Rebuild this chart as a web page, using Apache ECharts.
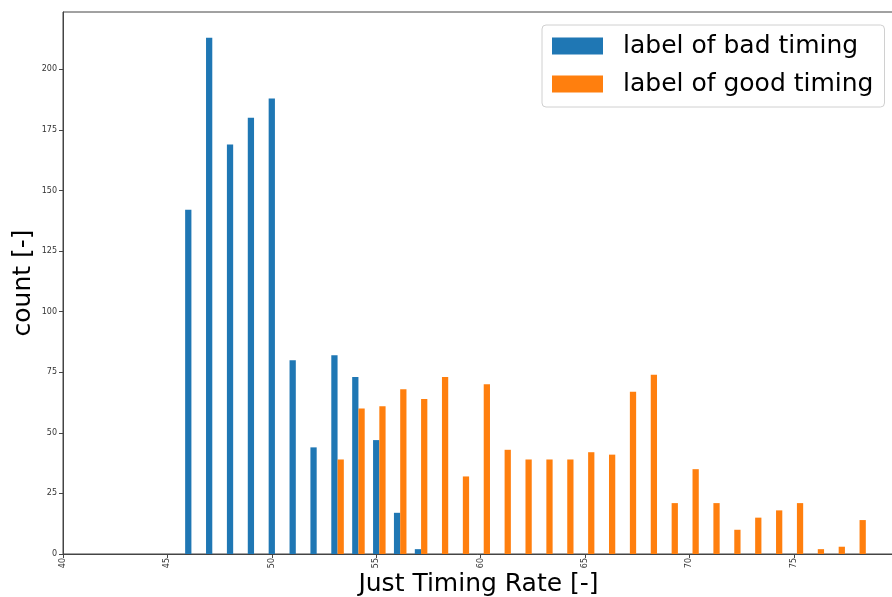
<!DOCTYPE html>
<html>
<head>
<meta charset="utf-8">
<script src="https://cdn.jsdelivr.net/npm/echarts@6/dist/echarts.min.js"></script>
<style>
html,body{margin:0;padding:0;background:#fff;}
#chart{width:892px;height:597px;}
</style>
</head>
<body>
<div id="chart"></div>
<script>
// ---- data ----
const badX = [46, 47, 48, 49, 50, 51, 52, 53, 54, 55, 56, 57];
const badY = [142, 213, 169, 180, 188, 80, 44, 82, 73, 47, 17, 2];
const goodX = [53, 54, 55, 56, 57, 58, 59, 60, 61, 62, 63, 64, 65, 66, 67, 68, 69, 70, 71, 72, 73, 74, 75, 76, 77, 78];
const goodY = [39, 60, 61, 68, 64, 73, 32, 70, 43, 39, 39, 39, 42, 41, 67, 74, 21, 35, 21, 10, 15, 18, 21, 2, 3, 14];
const xTicks = [40, 45, 50, 55, 60, 65, 70, 75];
const yTicks = [0, 25, 50, 75, 100, 125, 150, 175, 200];
const seriesNames = ['label of bad timing', 'label of good timing'];

const BAR_W = 0.3;
function makeRender(offset, color) {
  return function (params, api) {
    const x = api.value(0), y = api.value(1);
    const p0 = api.coord([x + offset - BAR_W / 2, y]);
    const p1 = api.coord([x + offset + BAR_W / 2, 0]);
    return {
      type: 'rect',
      shape: { x: p0[0], y: p0[1], width: p1[0] - p0[0], height: p1[1] - p0[1] },
      style: { fill: color }
    };
  };
}

const chart = echarts.init(document.getElementById('chart'), null, { renderer: 'canvas' });
const FONT = 'DejaVu Sans';
chart.setOption({
  animation: false,
  backgroundColor: '#fff',
  textStyle: { fontFamily: FONT },
  grid: { left: 63, top: 12, right: -2, bottom: 43, show: true, borderColor: '#444', borderWidth: 1, backgroundColor: 'transparent', outerBoundsMode: 'none', containLabel: false },
  legend: {
    orient: 'vertical', left: 542, top: 25,
    padding: [6, 11, 8, 10],
    itemWidth: 51, itemHeight: 17, itemGap: 8,
    icon: 'rect',
    borderColor: '#d0d0d0', borderWidth: 1, borderRadius: 4,
    backgroundColor: 'rgba(255,255,255,0.8)',
    textStyle: { fontFamily: FONT, fontSize: 25, color: '#000', lineHeight: 30, padding: [0, 0, 0, 15] },
    data: seriesNames
  },
  xAxis: {
    type: 'value', min: 40, max: 79.8,
    name: 'Just Timing Rate [-]', nameLocation: 'middle', nameGap: 18, nameMoveOverlap: false,
    nameTextStyle: { fontFamily: FONT, fontSize: 25, color: '#000' },
    axisLine: { show: true, lineStyle: { color: '#444', width: 1 } },
    axisTick: { show: true, length: 4, customValues: xTicks, lineStyle: { color: '#444' } },
    axisLabel: { rotate: 90, fontSize: 8, color: '#333', margin: 4, customValues: xTicks, fontFamily: FONT },
    splitLine: { show: false }
  },
  yAxis: {
    type: 'value', min: 0, max: 223.65,
    name: 'count [-]', nameLocation: 'middle', nameGap: 27, nameRotate: 90, nameMoveOverlap: false,
    nameTextStyle: { fontFamily: FONT, fontSize: 25, color: '#000' },
    axisLine: { show: true, lineStyle: { color: '#444', width: 1 } },
    axisTick: { show: true, length: 4, customValues: yTicks, lineStyle: { color: '#444' } },
    axisLabel: { fontSize: 8, color: '#333', margin: 6, customValues: yTicks, fontFamily: FONT },
    splitLine: { show: false }
  },
  series: [
    {
      name: seriesNames[0], type: 'custom',
      itemStyle: { color: '#1f77b4' },
      renderItem: makeRender(0, '#1f77b4'),
      encode: { x: 0, y: 1 },
      data: badX.map((x, i) => [x, badY[i]])
    },
    {
      name: seriesNames[1], type: 'custom',
      itemStyle: { color: '#ff7f0e' },
      renderItem: makeRender(BAR_W, '#ff7f0e'),
      encode: { x: 0, y: 1 },
      data: goodX.map((x, i) => [x, goodY[i]])
    }
  ]
});
</script>
</body>
</html>
